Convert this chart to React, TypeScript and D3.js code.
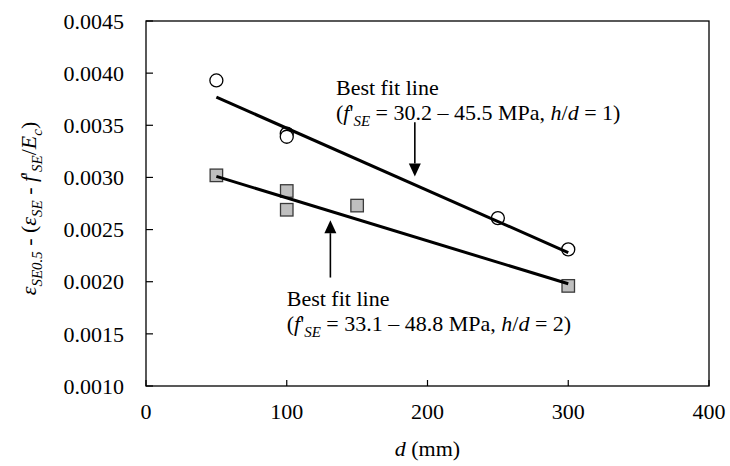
import React from "react";
import * as d3 from "d3";

// ---- data ----
const circleD = [50, 100, 100, 250, 300];
const circleV = [0.00393, 0.00342, 0.00339, 0.00261, 0.00231];
const squareD = [50, 100, 100, 150, 300];
const squareV = [0.00302, 0.00287, 0.00269, 0.00273, 0.00196];
const fitCircleD = [50, 300];
const fitCircleV = [0.00377, 0.00228];
const fitSquareD = [50, 300];
const fitSquareV = [0.00301, 0.00198];
const xTicks = [0, 100, 200, 300, 400];
const yTicks = [0.001, 0.0015, 0.002, 0.0025, 0.003, 0.0035, 0.004, 0.0045];
// annotations (data units)
const arrowTop = { d: 191, from: 0.00353, to: 0.00301 };
const arrowBottom = { d: 131, from: 0.00204, to: 0.00259 };
const noteTop = { d: 135, v: 0.00379 };
const noteBottom = { d: 100, v: 0.00177 };

const W = 730;
const H = 466;
const M = { left: 146, right: 709, top: 21, bottom: 386 };
const FONT = "'Liberation Serif', 'Times New Roman', serif";
const FS = 22;

type Seg = { t: string; i?: boolean; s?: boolean };

function Rich(props: { x: number; y: number; segs: Seg[]; size?: number; anchor?: string; transform?: string }) {
  const size = props.size ?? FS;
  const shift = size * 0.28;
  let inSub = false;
  const spans = props.segs.map((sg, k) => {
    let dy = 0;
    if (sg.s && !inSub) { dy = shift; inSub = true; }
    else if (!sg.s && inSub) { dy = -shift; inSub = false; }
    return (
      <tspan key={k} dy={dy} fontStyle={sg.i ? "italic" : "normal"} fontSize={sg.s ? size * 0.68 : size}>
        {sg.t}
      </tspan>
    );
  });
  return (
    <text x={props.x} y={props.y} fontFamily={FONT} fontSize={size} textAnchor={props.anchor ?? "start"}
      transform={props.transform} style={{ whiteSpace: "pre" }} fill="#000">
      {spans}
    </text>
  );
}

export default function App() {
  const x = d3.scaleLinear().domain([0, 400]).range([M.left, M.right]);
  const y = d3.scaleLinear().domain([0.001, 0.0045]).range([M.bottom, M.top]);
  const line = d3.line<[number, number]>().x((p) => x(p[0])).y((p) => y(p[1]));
  const fmt = d3.format(".4f");

  const circles = circleD.map((d, i) => [d, circleV[i]] as [number, number]);
  const squares = squareD.map((d, i) => [d, squareV[i]] as [number, number]);
  const fitC = fitCircleD.map((d, i) => [d, fitCircleV[i]] as [number, number]);
  const fitS = fitSquareD.map((d, i) => [d, fitSquareV[i]] as [number, number]);

  const sq = 12.5;

  const arrow = (a: { d: number; from: number; to: number }, key: string) => {
    const ax = x(a.d);
    const y0 = y(a.from);
    const y1 = y(a.to);
    const dir = y1 > y0 ? 1 : -1;
    const hl = 13;
    const hw = 6;
    return (
      <g key={key}>
        <line x1={ax} x2={ax} y1={y0} y2={y1 - dir * hl} stroke="#000" strokeWidth={1.6} />
        <polygon points={`${ax},${y1} ${ax - hw},${y1 - dir * hl} ${ax + hw},${y1 - dir * hl}`} fill="#000" />
      </g>
    );
  };

  const note = (n: { d: number; v: number }, val: string, hd: string) => {
    const nx = x(n.d);
    const ny = y(n.v);
    return (
      <g>
        <Rich x={nx} y={ny} segs={[{ t: "Best fit line" }]} />
        <Rich x={nx} y={ny + 25} segs={[
          { t: "(" }, { t: "f", i: true }, { t: "'" }, { t: "SE", i: true, s: true },
          { t: ` = ${val} MPa, ` }, { t: "h", i: true }, { t: "/" }, { t: "d", i: true }, { t: ` = ${hd})` },
        ]} />
      </g>
    );
  };

  return (
    <svg width={W} height={H} style={{ position: "absolute", left: 0, top: 0, background: "#fff" }}>
      <rect x={0} y={0} width={W} height={H} fill="#fff" />
      {/* frame */}
      <rect x={M.left} y={M.top} width={M.right - M.left} height={M.bottom - M.top} fill="none" stroke="#000" strokeWidth={1.3} />
      {/* y ticks */}
      {yTicks.map((t) => (
        <g key={"y" + t}>
          <line x1={M.left} x2={M.left + 7} y1={y(t)} y2={y(t)} stroke="#000" strokeWidth={1.2} />
          <text x={M.left - 22} y={y(t)} dy="0.35em" textAnchor="end" fontFamily={FONT} fontSize={FS}>{fmt(t)}</text>
        </g>
      ))}
      {/* x ticks */}
      {xTicks.map((t) => (
        <g key={"x" + t}>
          <line x1={x(t)} x2={x(t)} y1={M.bottom} y2={M.bottom - 6} stroke="#000" strokeWidth={1.2} />
          <text x={x(t)} y={M.bottom + 33} textAnchor="middle" fontFamily={FONT} fontSize={FS}>{t}</text>
        </g>
      ))}
      {/* axis titles */}
      <Rich x={x(200)} y={456} anchor="middle" segs={[{ t: "d", i: true }, { t: " (mm)" }]} />
      <Rich x={0} y={0} anchor="middle" transform={`translate(36,${(M.top + M.bottom) / 2 + 5}) rotate(-90)`}
        segs={[
          { t: "ε", i: true }, { t: "SE0.5", i: true, s: true }, { t: " - (" }, { t: "ε", i: true },
          { t: "SE", i: true, s: true }, { t: " - " }, { t: "f", i: true }, { t: "'" }, { t: "SE", i: true, s: true },
          { t: "/" }, { t: "E", i: true }, { t: "c", i: true, s: true }, { t: ")" },
        ]} />
      {/* markers */}
      {squares.map((p, i) => (
        <rect key={"s" + i} x={x(p[0]) - sq / 2} y={y(p[1]) - sq / 2} width={sq} height={sq}
          fill="#BFBFBF" stroke="#3a3a3a" strokeWidth={1.3} />
      ))}
      {circles.map((p, i) => (
        <circle key={"c" + i} cx={x(p[0])} cy={y(p[1])} r={6.5} fill="#fff" stroke="#000" strokeWidth={1.3} />
      ))}
      {/* fit lines */}
      <path d={line(fitC) || ""} stroke="#000" strokeWidth={3} fill="none" />
      <path d={line(fitS) || ""} stroke="#000" strokeWidth={3} fill="none" />
      {/* annotations */}
      {arrow(arrowTop, "a1")}
      {arrow(arrowBottom, "a2")}
      {note(noteTop, "30.2 – 45.5", "1")}
      {note(noteBottom, "33.1 – 48.8", "2")}
    </svg>
  );
}
